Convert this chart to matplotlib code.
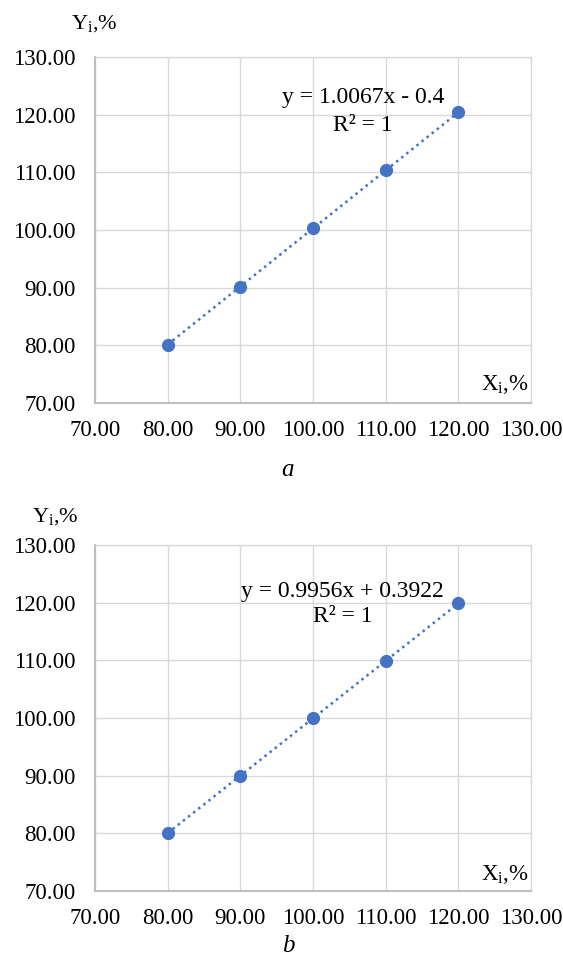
import numpy as np
import matplotlib
matplotlib.use("Agg")
import matplotlib.pyplot as plt

plt.rcParams['font.family'] = ['Liberation Serif', 'DejaVu Serif']
plt.rcParams['mathtext.fontset'] = 'custom'
plt.rcParams['mathtext.rm'] = 'Liberation Serif'
plt.rcParams['mathtext.it'] = 'Liberation Serif:italic'

# ---- data ----
x_a = [80.0, 90.0, 100.0, 110.0, 120.0]
y_a = [80.14, 90.20, 100.27, 110.34, 120.40]
x_b = [80.0, 90.0, 100.0, 110.0, 120.0]
y_b = [80.04, 89.99, 99.95, 109.91, 119.86]
eq_a = ["y = 1.0067x - 0.4", "R² = 1"]
eq_b = ["y = 0.9956x + 0.3922", "R² = 1"]
ticks = [70, 80, 90, 100, 110, 120, 130]
tick_labels = ["70.00", "80.00", "90.00", "100.00", "110.00", "120.00", "130.00"]
captions = ["a", "b"]

blue = '#4472C4'
grid_c = '#D9D9D9'
spine_c = '#BFBFBF'

fig = plt.figure(figsize=(5.63, 9.67), dpi=100)
W, H = 563, 967

def px_axes(left, top, right, bottom):
    return fig.add_axes([left / W, 1 - bottom / H, (right - left) / W, (bottom - top) / H])

ax_a = px_axes(95, 57, 531, 403)
ax_b = px_axes(95, 545, 531, 891)

panels = [
    (ax_a, x_a, y_a, eq_a, (106.9, 122.9), (106.9, 118.2), (94, 24), (529, 384)),
    (ax_b, x_b, y_b, eq_b, (104.1, 121.9), (104.1, 117.6), (55, 517), (529, 874)),
]

for ax, xs, ys, eq, eqpos, rpos, ylab, xlab in panels:
    ax.set_xlim(70, 130)
    ax.set_ylim(70, 130)
    ax.set_xticks(ticks)
    ax.set_xticklabels(tick_labels)
    ax.set_yticks(ticks)
    ax.set_yticklabels(tick_labels)
    ax.tick_params(axis='both', length=0, labelsize=16.5, colors='black')
    ax.tick_params(axis='y', pad=14)
    ax.tick_params(axis='x', pad=12.5)
    ax.grid(True, color=grid_c, lw=1.0)
    ax.set_axisbelow(True)
    for s in ['top', 'right']:
        ax.spines[s].set_color(grid_c)
        ax.spines[s].set_linewidth(1.0)
    for s in ['left', 'bottom']:
        ax.spines[s].set_color(spine_c)
        ax.spines[s].set_linewidth(1.5)

    coef = np.polyfit(xs, ys, 1)
    xl = np.array([min(xs), max(xs)])
    ax.plot(xl, np.polyval(coef, xl), color=blue, lw=1.8, linestyle=(0, (1, 1.6)), zorder=2)
    ax.plot(xs, ys, 'o', color=blue, ms=8.5, zorder=3)

    ax.text(eqpos[0], eqpos[1], eq[0], fontsize=17, ha='center', va='center')
    ax.text(rpos[0], rpos[1], eq[1], fontsize=17, ha='center', va='center')

    fig.text(ylab[0] / W, 1 - ylab[1] / H, r'Y$_\mathregular{i}$,%', fontsize=16, ha='center', va='center')
    fig.text(xlab[0] / W, 1 - xlab[1] / H, r'X$_\mathregular{i}$,%', fontsize=16.5, ha='right', va='center')

fig.text(288 / W, 1 - 470 / H, captions[0], fontsize=18, style='italic', ha='center', va='center')
fig.text(288 / W, 1 - 946 / H, captions[1], fontsize=18, style='italic', ha='center', va='center')

fig.savefig('out.png', dpi=100)
